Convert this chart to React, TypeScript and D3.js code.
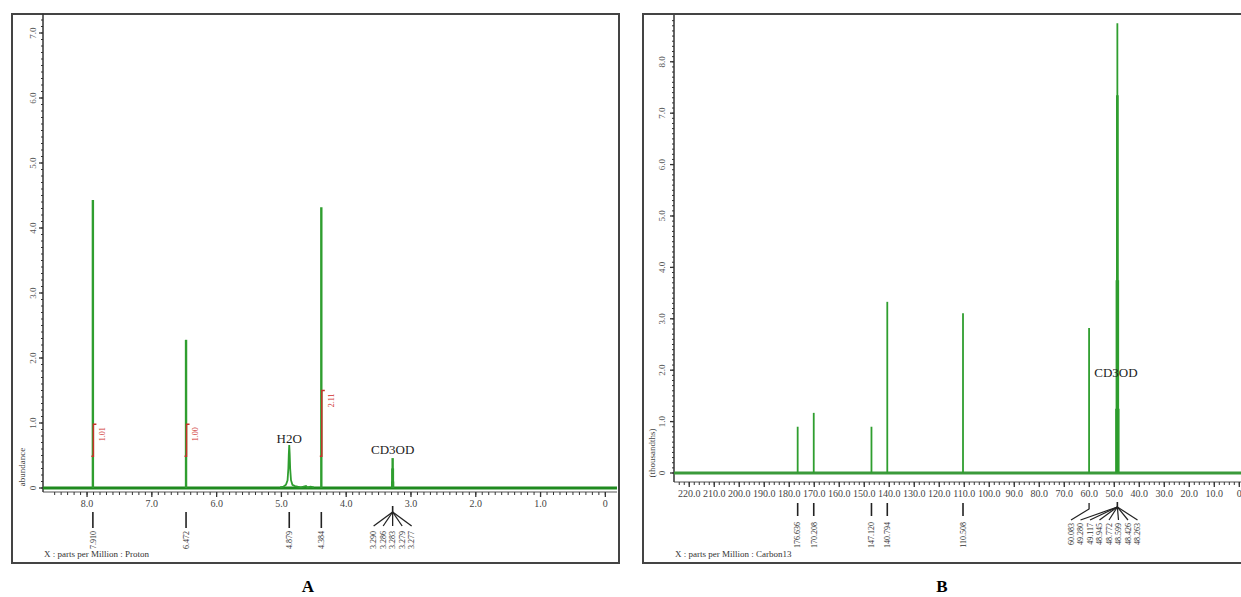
import React, { useEffect, useRef } from "react";
import * as d3 from "d3";

// ---- panel A : proton spectrum ----
const protonPeaks = [
  { ppm: 7.91, h: 4.43 },
  { ppm: 6.472, h: 2.28 },
  { ppm: 4.384, h: 4.32 },
  { ppm: 3.29, h: 0.1 },
  { ppm: 3.286, h: 0.3 },
  { ppm: 3.283, h: 0.46 },
  { ppm: 3.279, h: 0.3 },
  { ppm: 3.277, h: 0.1 },
];
// broad water signal, read point by point
const waterProfile: [number, number][] = [
  [5.02, 0.01], [4.97, 0.02], [4.93, 0.05], [4.905, 0.12], [4.893, 0.3],
  [4.886, 0.52], [4.879, 0.66], [4.872, 0.52], [4.865, 0.3], [4.852, 0.12],
  [4.83, 0.05], [4.79, 0.03], [4.75, 0.02], [4.7, 0.01], [4.62, 0.03],
  [4.6, 0.01], [4.55, 0.02], [4.5, 0.01],
];
const protonTicks = [8, 7, 6, 5, 4, 3, 2, 1, 0];
const protonYTicks = [0, 1, 2, 3, 4, 5, 6, 7];
const protonSingleLabels = ["7.910", "6.472", "4.879", "4.384"];
const protonFanLabels = ["3.290", "3.286", "3.283", "3.279", "3.277"];
const protonIntegrals = [
  { ppm: 7.91, from: 0.49, to: 0.98, label: "1.01" },
  { ppm: 6.472, from: 0.49, to: 0.98, label: "1.00" },
  { ppm: 4.384, from: 0.49, to: 1.5, label: "2.11" },
];
const protonNotes = [
  { ppm: 4.879, v: 0.69, text: "H2O" },
  { ppm: 3.283, v: 0.52, text: "CD3OD" },
];

// ---- panel B : carbon spectrum ----
const carbonPeaks = [
  { ppm: 176.636, h: 0.9 },
  { ppm: 170.208, h: 1.17 },
  { ppm: 147.12, h: 0.9 },
  { ppm: 140.794, h: 3.33 },
  { ppm: 110.508, h: 3.11 },
  { ppm: 60.083, h: 2.82 },
  { ppm: 49.28, h: 1.25 },
  { ppm: 49.117, h: 3.75 },
  { ppm: 48.945, h: 7.35 },
  { ppm: 48.772, h: 8.75 },
  { ppm: 48.599, h: 7.35 },
  { ppm: 48.426, h: 3.75 },
  { ppm: 48.263, h: 1.25 },
];
const carbonTicks = [220, 210, 200, 190, 180, 170, 160, 150, 140, 130, 120, 110, 100, 90, 80, 70, 60, 50, 40, 30, 20, 10, 0];
const carbonYTicks = [0, 1, 2, 3, 4, 5, 6, 7, 8];
const carbonSingleLabels = ["176.636", "170.208", "147.120", "140.794", "110.508"];
const carbonFanLabels = ["60.083", "49.280", "49.117", "48.945", "48.772", "48.599", "48.426", "48.263"];
const carbonNotes = [{ ppm: 58.0, v: 1.87, text: "CD3OD" }];

const FONT = "'Liberation Serif', 'Times New Roman', serif";
const GREEN = "#2f9e2f";
const BASE = "#1f8a1f";

function drawAxes(g: any, o: any) {
  const { x, y, axisY, xMajor, xMinor, xFmt, yMajor, yMinor, yLabelX } = o;
  const [x0] = x.range();
  const [, yTop] = y.range();
  g.append("line").attr("x1", x0).attr("x2", x.range()[1]).attr("y1", axisY).attr("y2", axisY)
    .attr("stroke", "#555").attr("stroke-width", 1);
  g.append("line").attr("x1", x0).attr("x2", x0).attr("y1", yTop).attr("y2", axisY)
    .attr("stroke", "#333").attr("stroke-width", 1.5);

  g.selectAll(".xmin").data(xMinor).enter().append("line")
    .attr("x1", (d: number) => x(d)).attr("x2", (d: number) => x(d))
    .attr("y1", axisY).attr("y2", axisY + 3).attr("stroke", "#333");
  g.selectAll(".xmaj").data(xMajor).enter().append("line")
    .attr("x1", (d: number) => x(d)).attr("x2", (d: number) => x(d))
    .attr("y1", axisY).attr("y2", axisY + 5).attr("stroke", "#333").attr("stroke-width", 1.3);
  g.selectAll(".xlab").data(xMajor).enter().append("text")
    .attr("x", (d: number) => x(d)).attr("y", axisY + 15)
    .attr("text-anchor", "middle").attr("font-size", 10).attr("font-family", FONT)
    .attr("fill", "#444").text(xFmt);

  g.selectAll(".ymin").data(yMinor).enter().append("line")
    .attr("x1", x0 - 2).attr("x2", x0)
    .attr("y1", (d: number) => y(d)).attr("y2", (d: number) => y(d)).attr("stroke", "#333");
  g.selectAll(".ymaj").data(yMajor).enter().append("line")
    .attr("x1", x0 - 4).attr("x2", x0)
    .attr("y1", (d: number) => y(d)).attr("y2", (d: number) => y(d)).attr("stroke", "#333").attr("stroke-width", 1.3);
  g.selectAll(".ylab").data(yMajor).enter().append("text")
    .attr("transform", (d: number) => `translate(${yLabelX},${y(d)}) rotate(-90)`)
    .attr("text-anchor", "middle").attr("dy", "0.35em")
    .attr("font-size", 9).attr("font-family", FONT).attr("fill", "#555")
    .text((d: number) => (d === 0 ? "0" : d.toFixed(1)));
}

function drawSticks(g: any, x: any, y: any, peaks: any[], width: number) {
  g.selectAll(".peak").data(peaks).enter().append("line")
    .attr("x1", (d: any) => x(d.ppm)).attr("x2", (d: any) => x(d.ppm))
    .attr("y1", y(0)).attr("y2", (d: any) => y(d.h))
    .attr("stroke", GREEN).attr("stroke-width", width);
}

function drawLabels(g: any, items: { x: number; text: string }[], top: number, fs: number) {
  g.selectAll(".plab").data(items).enter().append("text")
    .attr("transform", (d: any) => `translate(${d.x},${top}) rotate(-90)`)
    .attr("text-anchor", "end").attr("dy", "0.35em")
    .attr("font-size", fs).attr("font-family", FONT).attr("fill", "#333")
    .text((d: any) => d.text);
}

export default function App() {
  const svgRef = useRef<SVGSVGElement | null>(null);

  useEffect(() => {
    if (!svgRef.current) return;
    const svg = d3.select(svgRef.current);
    svg.selectAll("*").remove();
    svg.append("rect").attr("width", 1241).attr("height", 597).attr("fill", "#fff");

    // ================= Panel A =================
    const gA = svg.append("g");
    gA.append("rect").attr("x", 12).attr("y", 14).attr("width", 607).attr("height", 549)
      .attr("fill", "none").attr("stroke", "#444").attr("stroke-width", 2);

    const xA = d3.scaleLinear().domain([8.68, -0.18]).range([43, 617]);
    const yA = d3.scaleLinear().domain([0, 7.3]).range([488, 13.5]);
    drawAxes(gA, {
      x: xA, y: yA, axisY: 492,
      xMajor: protonTicks,
      xMinor: d3.range(0, 86).map((i) => i / 10),
      xFmt: (d: number) => (d === 0 ? "0" : d.toFixed(1)),
      yMajor: protonYTicks,
      yMinor: d3.range(0, 73).map((i) => i / 10),
      yLabelX: 33,
    });

    // baseline + water hump + sticks
    const lineA = d3.line<[number, number]>().x((d) => xA(d[0])).y((d) => yA(d[1]));
    gA.append("line").attr("x1", 43).attr("x2", 617).attr("y1", yA(0)).attr("y2", yA(0))
      .attr("stroke", BASE).attr("stroke-width", 3);
    gA.append("path").attr("d", lineA(waterProfile)).attr("fill", "none")
      .attr("stroke", GREEN).attr("stroke-width", 1.8);
    drawSticks(gA, xA, yA, protonPeaks, 2.4);

    // integrals
    protonIntegrals.forEach((it) => {
      const px = xA(it.ppm) + 0.5;
      gA.append("path")
        .attr("d", `M${px + 3},${yA(it.to)}H${px}V${yA(it.from)}H${px - 2}`)
        .attr("fill", "none").attr("stroke", "#c8322a").attr("stroke-width", 1.5);
      gA.append("text")
        .attr("transform", `translate(${px + 9},${yA(it.to) + 3}) rotate(-90)`)
        .attr("text-anchor", "end").attr("dy", "0.35em")
        .attr("font-size", 8).attr("font-family", FONT).attr("fill", "#d03030")
        .text(it.label);
    });

    protonNotes.forEach((n) => {
      gA.append("text").attr("x", xA(n.ppm)).attr("y", yA(n.v))
        .attr("text-anchor", "middle").attr("font-size", 13).attr("font-family", FONT)
        .attr("fill", "#222").text(n.text);
    });

    // peak picks under the axis
    const singleA = protonSingleLabels.map((t) => ({ x: xA(+t), text: t }));
    singleA.forEach((d) => {
      gA.append("line").attr("x1", d.x).attr("x2", d.x).attr("y1", 512).attr("y2", 528)
        .attr("stroke", "#222").attr("stroke-width", 1.6);
    });
    const apexA = xA(3.283);
    const fanA = protonFanLabels.map((t, i) => ({ x: apexA + (i - 2) * 9.5, text: t }));
    gA.append("line").attr("x1", apexA).attr("x2", apexA).attr("y1", 506).attr("y2", 512)
      .attr("stroke", "#222").attr("stroke-width", 1.6);
    fanA.forEach((d) => {
      gA.append("line").attr("x1", apexA).attr("x2", d.x).attr("y1", 512).attr("y2", 526)
        .attr("stroke", "#222").attr("stroke-width", 1.3);
    });
    drawLabels(gA, [...singleA, ...fanA], 531, 8);

    gA.append("text").attr("x", 44).attr("y", 557).attr("font-size", 9)
      .attr("font-family", FONT).attr("fill", "#333").text("X : parts per Million : Proton");
    gA.append("text").attr("transform", "translate(22,467) rotate(-90)")
      .attr("text-anchor", "middle").attr("dy", "0.35em").attr("font-size", 9)
      .attr("font-family", FONT).attr("fill", "#444").text("abundance");

    // ================= Panel B =================
    const gB = svg.append("g");
    gB.append("rect").attr("x", 643).attr("y", 14).attr("width", 640).attr("height", 549)
      .attr("fill", "none").attr("stroke", "#444").attr("stroke-width", 2);

    const xB = d3.scaleLinear().domain([226.1, -2]).range([674, 1244.3]);
    const yB = d3.scaleLinear().domain([0, 8.91]).range([473, 15]);
    drawAxes(gB, {
      x: xB, y: yB, axisY: 482,
      xMajor: carbonTicks,
      xMinor: d3.range(0, 113).map((i) => i * 2),
      xFmt: (d: number) => (d === 0 ? "0" : d.toFixed(1)),
      yMajor: carbonYTicks,
      yMinor: d3.range(0, 89).map((i) => i / 10),
      yLabelX: 662,
    });

    gB.append("line").attr("x1", 674).attr("x2", 1244).attr("y1", yB(0)).attr("y2", yB(0))
      .attr("stroke", "#3a9a3a").attr("stroke-width", 3);
    drawSticks(gB, xB, yB, carbonPeaks, 1.8);

    carbonNotes.forEach((n) => {
      gB.append("text").attr("x", xB(n.ppm)).attr("y", yB(n.v))
        .attr("font-size", 13).attr("font-family", FONT).attr("fill", "#222").text(n.text);
    });

    const singleB = carbonSingleLabels.map((t) => ({ x: xB(+t), text: t }));
    singleB.forEach((d) => {
      gB.append("line").attr("x1", d.x).attr("x2", d.x).attr("y1", 503).attr("y2", 516)
        .attr("stroke", "#222").attr("stroke-width", 1.6);
    });
    const apexB = xB(48.772);
    const x60 = xB(60.083);
    const fanB = carbonFanLabels.map((t, i) => ({ x: 1071 + i * 9.5, text: t }));
    gB.append("path").attr("d", `M${x60},503V509L${fanB[0].x},520`).attr("fill", "none")
      .attr("stroke", "#222").attr("stroke-width", 1.3);
    gB.append("line").attr("x1", apexB).attr("x2", apexB).attr("y1", 502).attr("y2", 507)
      .attr("stroke", "#222").attr("stroke-width", 1.6);
    fanB.slice(1).forEach((d) => {
      gB.append("line").attr("x1", apexB).attr("x2", d.x).attr("y1", 507).attr("y2", 520)
        .attr("stroke", "#222").attr("stroke-width", 1.2);
    });
    drawLabels(gB, singleB, 522, 8);
    drawLabels(gB, fanB, 523, 8);

    gB.append("text").attr("x", 675).attr("y", 557).attr("font-size", 9)
      .attr("font-family", FONT).attr("fill", "#333").text("X : parts per Million : Carbon13");
    gB.append("text").attr("transform", "translate(652,453) rotate(-90)")
      .attr("text-anchor", "middle").attr("dy", "0.35em").attr("font-size", 9)
      .attr("font-family", FONT).attr("fill", "#444").text("(thousandths)");

    // panel letters
    svg.append("text").attr("x", 308).attr("y", 592).attr("text-anchor", "middle")
      .attr("font-size", 17).attr("font-weight", "bold").attr("font-family", FONT).text("A");
    svg.append("text").attr("x", 942).attr("y", 592).attr("text-anchor", "middle")
      .attr("font-size", 17).attr("font-weight", "bold").attr("font-family", FONT).text("B");
  }, []);

  return (
    <svg
      ref={svgRef}
      width={1241}
      height={597}
      style={{ position: "absolute", left: 0, top: 0, display: "block" }}
    />
  );
}
